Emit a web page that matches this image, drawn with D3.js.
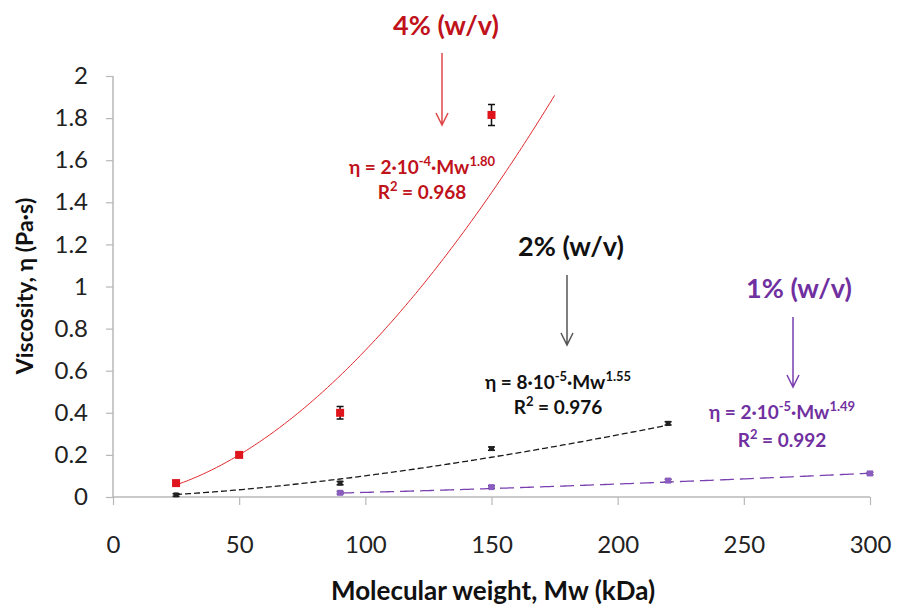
<!DOCTYPE html>
<html>
<head>
<meta charset="utf-8">
<script src="https://cdn.jsdelivr.net/npm/d3@7"></script>
<style>
    body { margin: 0; background: #fff; }
    svg { font-family: Lato, "Open Sans", sans-serif; }
</style>
</head>
<body>
<svg id="chart"></svg>
<script>

// measured points, one list per concentration
const mw4 = [25, 50, 90, 150]
const eta4 = [0.066, 0.2, 0.40, 1.815]
const err4 = [0.008, 0.008, 0.03, 0.05]

const mw2 = [25, 90, 150, 220]
const eta2 = [0.01, 0.066, 0.23, 0.35]
const err2 = [0.006, 0.008, 0.008, 0.008]

const mw1 = [90, 150, 220, 300]
const eta1 = [0.02, 0.047, 0.078, 0.112]
const err1 = [0.006, 0.006, 0.006, 0.006]

// power-law trendlines  eta = a * Mw^b  (4%, 2%, 1%)
const fitCoef = [1.75e-4, 8e-5, 2.3e-5]
const fitExp = [1.8, 1.55, 1.49]
const fitFrom = [25, 25, 90]
const fitTo = [175, 220, 300]

const xTicks = [0, 50, 100, 150, 200, 250, 300]
const yTicks = [0, 0.2, 0.4, 0.6, 0.8, 1, 1.2, 1.4, 1.6, 1.8, 2]

const seriesLabels = ['4% (w/v)', '2% (w/v)', '1% (w/v)']
const eqBase = ['2·10', '8·10', '2·10']
const eqPow = ['-4', '-5', '-5']
const eqExp = ['1.80', '1.55', '1.49']
const r2 = ['0.968', '0.976', '0.992']


class ViscosityChart {

    constructor(parentElement) {
        let vis = this
        vis.width = 898
        vis.height = 611
        vis.margin = {top: 76, right: 28, bottom: 114, left: 113}

        vis.svg = d3.select(parentElement)
            .attr('width', vis.width)
            .attr('height', vis.height)

        vis.x = d3.scaleLinear().domain([0, 300])
            .range([vis.margin.left, 870])
        vis.y = d3.scaleLinear().domain([0, 2])
            .range([497, vis.margin.top])

        vis.colors = ['#e0282c', '#1a1a1a', '#7a3fb0']
        vis.textColors = ['#c0121a', '#111111', '#7030a0']
        vis.arrowColors = ['#e04848', '#555555', '#7a3fb0']
        vis.dashes = [null, '6,3', '14,6']

        vis.drawAxes()
        vis.drawSeries()
        vis.drawNotes()
    }

    drawAxes() {
        let vis = this

        let xAxis = d3.axisBottom(vis.x).tickValues(xTicks).tickSize(8).tickPadding(31)
        let yAxis = d3.axisLeft(vis.y).tickValues(yTicks).tickSize(7).tickPadding(18)
            .tickFormat(d3.format('~g'))

        let gx = vis.svg.append('g')
            .attr('transform', `translate(0,${vis.y(0)})`)
            .call(xAxis)
        let gy = vis.svg.append('g')
            .attr('transform', `translate(${vis.x(0)},0)`)
            .call(yAxis)

        for (let g of [gx, gy]) {
            g.select('.domain').attr('stroke', '#b8b8b8').attr('stroke-width', 1.5)
            g.selectAll('.tick line').attr('stroke', '#b8b8b8').attr('stroke-width', 1.2)
            g.selectAll('.tick text')
                .attr('fill', '#222')
                .attr('font-size', '24px')
                .attr('font-family', 'Lato, sans-serif')
        }
        gy.select('.domain').attr('d', `M0,${vis.y(2)}V${vis.y(0)}`)
        gx.select('.domain').attr('d', `M0,0H${vis.x(300) - vis.x(0)}`)
            .attr('transform', `translate(${vis.x(0)},0)`)

        vis.svg.append('text')
            .attr('x', 493)
            .attr('y', 600)
            .attr('text-anchor', 'middle')
            .attr('font-size', '26px')
            .attr('font-weight', 'bold')
            .attr('fill', '#111')
            .text('Molecular weight, Mw (kDa)')

        vis.svg.append('text')
            .attr('transform', 'translate(33,286) rotate(-90)')
            .attr('text-anchor', 'middle')
            .attr('font-size', '23px')
            .attr('font-weight', 'bold')
            .attr('fill', '#111')
            .text('Viscosity, η (Pa·s)')
    }

    drawSeries() {
        let vis = this
        let line = d3.line().x(d => vis.x(d[0])).y(d => vis.y(d[1]))

        // trendlines
        for (let i = 0; i < 3; i++) {
            let pts = d3.range(fitFrom[i], fitTo[i] + 0.5, 1)
                .map(m => [m, fitCoef[i] * Math.pow(m, fitExp[i])])
            vis.svg.append('path')
                .attr('d', line(pts))
                .attr('fill', 'none')
                .attr('stroke', vis.colors[i])
                .attr('stroke-width', i === 0 ? 1 : 1.3)
                .attr('stroke-dasharray', vis.dashes[i])
        }

        let sets = [[mw4, eta4, err4], [mw2, eta2, err2], [mw1, eta1, err1]]
        let sizes = [8, 5, 6]
        let fills = ['#e0141c', '#222', '#8a5cc0']
        sets.forEach((s, i) => {
            let rows = s[0].map((m, k) => ({m: m, v: s[1][k], e: s[2][k]}))
            let g = vis.svg.append('g')
            // error bars
            g.selectAll('path.err').data(rows).join('path')
                .attr('class', 'err')
                .attr('d', d => {
                    let cx = vis.x(d.m), y1 = vis.y(d.v + d.e), y2 = vis.y(d.v - d.e)
                    return `M${cx - 3.5},${y1}H${cx + 3.5}M${cx},${y1}V${y2}M${cx - 3.5},${y2}H${cx + 3.5}`
                })
                .attr('stroke', i === 2 ? '#4a3070' : '#111')
                .attr('stroke-width', 1.5)
                .attr('fill', 'none')
            g.selectAll('rect').data(rows).join('rect')
                .attr('x', d => vis.x(d.m) - sizes[i] / 2)
                .attr('y', d => vis.y(d.v) - sizes[i] / 2)
                .attr('width', sizes[i])
                .attr('height', sizes[i])
                .attr('fill', fills[i])
        })
    }

    drawNotes() {
        let vis = this
        // label position, arrow, equation centre
        let notes = [
            {lx: 446, ly: 35, ax: 442, a1: 53, a2: 125, ex: 422, ey: 174, ry: 199},
            {lx: 571, ly: 256, ax: 567, a1: 275, a2: 345, ex: 558, ey: 389, ry: 414},
            {lx: 799, ly: 298, ax: 793, a1: 317, a2: 387, ex: 782, ey: 419, ry: 447}
        ]
        notes.forEach((n, i) => {
            let c = vis.textColors[i]
            vis.svg.append('text')
                .attr('x', n.lx).attr('y', n.ly)
                .attr('text-anchor', 'middle')
                .attr('font-size', '27px')
                .attr('font-weight', 'bold')
                .attr('fill', c)
                .text(seriesLabels[i])

            vis.svg.append('path')
                .attr('d', `M${n.ax},${n.a1}V${n.a2}M${n.ax - 6},${n.a2 - 12}L${n.ax},${n.a2}L${n.ax + 6},${n.a2 - 12}`)
                .attr('fill', 'none')
                .attr('stroke', vis.arrowColors[i])
                .attr('stroke-width', 1.5)

            let eq = vis.svg.append('text')
                .attr('x', n.ex).attr('y', n.ey)
                .attr('text-anchor', 'middle')
                .attr('font-size', '19px')
                .attr('font-weight', 'bold')
                .attr('fill', c)
            eq.append('tspan').text('η = ' + eqBase[i])
            eq.append('tspan').attr('dy', -8).attr('font-size', '13px').text(eqPow[i])
            eq.append('tspan').attr('dy', 8).text('·Mw')
            eq.append('tspan').attr('dy', -8).attr('font-size', '13px').text(eqExp[i])

            let r = vis.svg.append('text')
                .attr('x', n.ex).attr('y', n.ry)
                .attr('text-anchor', 'middle')
                .attr('font-size', '19px')
                .attr('font-weight', 'bold')
                .attr('fill', c)
            r.append('tspan').text('R')
            r.append('tspan').attr('dy', -8).attr('font-size', '13px').text('2')
            r.append('tspan').attr('dy', 8).text(' = ' + r2[i])
        })
    }
}

let chart = new ViscosityChart('#chart')
</script>
</body>
</html>
